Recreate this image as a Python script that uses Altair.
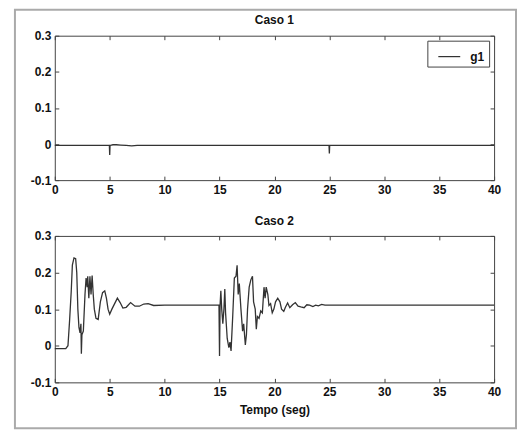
import altair as alt
import pandas as pd

# ---- data ----
t_caso1 = [0, 4.97, 5.0, 5.03, 5.3, 5.6, 6.0, 6.5, 7.0, 7.5, 8.0, 24.97, 25.0, 25.03, 40]
v_caso1 = [-0.004, -0.004, -0.030, -0.004, -0.002, -0.002, -0.003, -0.004, -0.005, -0.004, -0.004,
           -0.004, -0.026, -0.004, -0.004]

t_caso2 = [0, 1.0, 1.2, 1.35, 1.5, 1.6, 1.75, 1.9, 2.0, 2.1, 2.2, 2.3, 2.38, 2.42, 2.47, 2.6,
           2.75, 2.85, 2.95, 3.0, 3.1, 3.2, 3.3, 3.4, 3.5, 3.6, 3.75, 3.95, 4.15, 4.35, 4.55,
           4.7, 4.85, 5.0, 5.2, 5.45, 5.7, 5.95, 6.2, 6.5, 6.9, 7.3, 7.7, 8.1, 8.5, 9.0, 10.0,
           14.95, 15.0, 15.05, 15.12, 15.2, 15.3, 15.4, 15.48, 15.55, 15.7, 15.85, 15.95, 16.05,
           16.2, 16.35, 16.5, 16.6, 16.7, 16.8, 16.95, 17.1, 17.2, 17.35, 17.45, 17.55, 17.7,
           17.85, 18.0, 18.1, 18.25, 18.35, 18.45, 18.6, 18.75, 18.9, 19.05, 19.15, 19.25, 19.4,
           19.5, 19.65, 19.8, 19.95, 20.1, 20.3, 20.5, 20.65, 20.85, 21.0, 21.2, 21.4, 21.65,
           21.9, 22.15, 22.4, 22.7, 22.95, 23.2, 23.5, 23.75, 24.0, 24.3, 24.6, 40.0]
v_caso2 = [-0.008, -0.008, 0.0, 0.07, 0.15, 0.22, 0.24, 0.238, 0.2, 0.1, 0.05, 0.035, 0.06,
           -0.022, 0.03, 0.04, 0.14, 0.185, 0.16, 0.19, 0.13, 0.19, 0.14, 0.192, 0.14, 0.1,
           0.075, 0.072, 0.12, 0.145, 0.15, 0.13, 0.1, 0.086, 0.1, 0.115, 0.13, 0.118, 0.103,
           0.105, 0.118, 0.108, 0.108, 0.114, 0.115, 0.11, 0.111,
           0.111, -0.028, 0.11, 0.15, 0.1, 0.06, 0.1, 0.155, 0.09, 0.02, -0.005, 0.01, -0.014,
           0.08, 0.185, 0.19, 0.22, 0.14, 0.17, 0.10, 0.04, 0.06, 0.002, 0.03, 0.10, 0.16,
           0.18, 0.19, 0.12, 0.1, 0.045, 0.08, 0.075, 0.095, 0.09, 0.16, 0.13, 0.16, 0.14,
           0.11, 0.115, 0.09, 0.1, 0.12, 0.13, 0.12, 0.1, 0.094, 0.105, 0.117, 0.104, 0.112,
           0.118, 0.108, 0.106, 0.104, 0.112, 0.111, 0.107, 0.111, 0.109, 0.113, 0.111, 0.111]

x_ticks = [0, 5, 10, 15, 20, 25, 30, 35, 40]
y_ticks = [-0.1, 0, 0.1, 0.2, 0.3]
series_name = "g1"
titles = ["Caso 1", "Caso 2"]
x_title = "Tempo (seg)"

FONT = "Liberation Sans"
TXT = "#111111"
LINE = "#333333"
PW = 441


def make_df(t, v):
    return pd.DataFrame({"t": t, "v": v, "i": list(range(len(t))), "s": [series_name] * len(t)})


ylabel_expr = ("datum.value == 0 ? '0' : (datum.value < 0 ? '-' : '') + "
               "format(abs(datum.value), '.1f')")


def panel(df, title, height, title_y, xtitle=None, frame=False):
    xs = alt.Scale(domain=[0, 40], nice=False, zero=False)
    ys = alt.Scale(domain=[-0.1, 0.3], nice=False, zero=False)
    xaxis_kw = dict(values=x_ticks, orient="bottom", offset=-4, tickSize=4, tickColor="#444",
                    domain=False, grid=False, labelPadding=4, labelFontSize=12,
                    labelFontWeight="bold", labelFont=FONT, labelColor=TXT, labelFlush=False,
                    format="d")
    if xtitle:
        xaxis_kw.update(title=xtitle, titleFont=FONT, titleFontSize=12, titleFontWeight="bold",
                        titleColor=TXT, titlePadding=7)
    else:
        xaxis_kw.update(title=None)
    main = alt.Chart(df).mark_line(strokeWidth=1.3, interpolate="linear").encode(
        x=alt.X("t:Q", scale=xs, axis=alt.Axis(**xaxis_kw)),
        y=alt.Y("v:Q", scale=ys, axis=alt.Axis(
            values=y_ticks, orient="left", offset=-4, tickSize=4, tickColor="#444",
            domain=False, grid=False, labelPadding=4, labelFontSize=12,
            labelFontWeight="bold", labelFont=FONT, labelColor=TXT,
            labelExpr=ylabel_expr, title=None)),
        order="i:Q",
        color=alt.Color("s:N", scale=alt.Scale(range=[LINE]), legend=alt.Legend(
            title=None, orient="top-right", offset=5, strokeColor="#444", fillColor="white",
            padding=4, symbolOffset=6, symbolType="stroke", symbolSize=484,
            symbolStrokeWidth=1.2, symbolStrokeColor=LINE, labelOffset=9, labelFont=FONT,
            labelFontSize=12, labelFontWeight="bold", labelColor=TXT)),
    )
    ticks = alt.Chart(df).mark_line(strokeOpacity=0).encode(
        x=alt.X("t:Q", scale=xs, axis=alt.Axis(
            values=x_ticks, orient="top", offset=-4, tickSize=4, tickColor="#444",
            domain=False, grid=False, labels=False, title=None)),
        y=alt.Y("v:Q", scale=ys, axis=alt.Axis(
            values=y_ticks, orient="right", offset=-4, tickSize=4, tickColor="#444",
            domain=False, grid=False, labels=False, title=None)),
        order="i:Q",
    )
    ttl = alt.Chart(pd.DataFrame({"txt": [title]})).mark_text(
        font=FONT, fontSize=12, fontWeight="bold", color=TXT, align="center",
        baseline="middle").encode(
        text="txt:N", x=alt.value(PW / 2), y=alt.value(title_y))
    layers = [main, ticks, ttl]
    if frame:
        box = alt.Chart(pd.DataFrame({"a": [0]})).mark_rect(
            fill=None, stroke="#aaaaaa", strokeWidth=2).encode(
            x=alt.value(-40), x2=alt.value(463), y=alt.value(-26), y2=alt.value(394))
        layers = [box] + layers
    return alt.layer(*layers).resolve_axis(x="independent", y="independent").properties(
        width=PW, height=height,
    )


top = panel(make_df(t_caso1, v_caso1), titles[0], 145, -16, frame=True)
bottom = panel(make_df(t_caso2, v_caso2), titles[1], 147, -15, xtitle=x_title)

chart = alt.vconcat(top, bottom, spacing=56, bounds="flush").properties(
    padding={"left": 13, "top": 7, "right": 0, "bottom": 1},
    background="white",
).configure_view(stroke="#444444", strokeWidth=1)

chart.save("out.html", embed_options={"renderer": "svg", "actions": False})
